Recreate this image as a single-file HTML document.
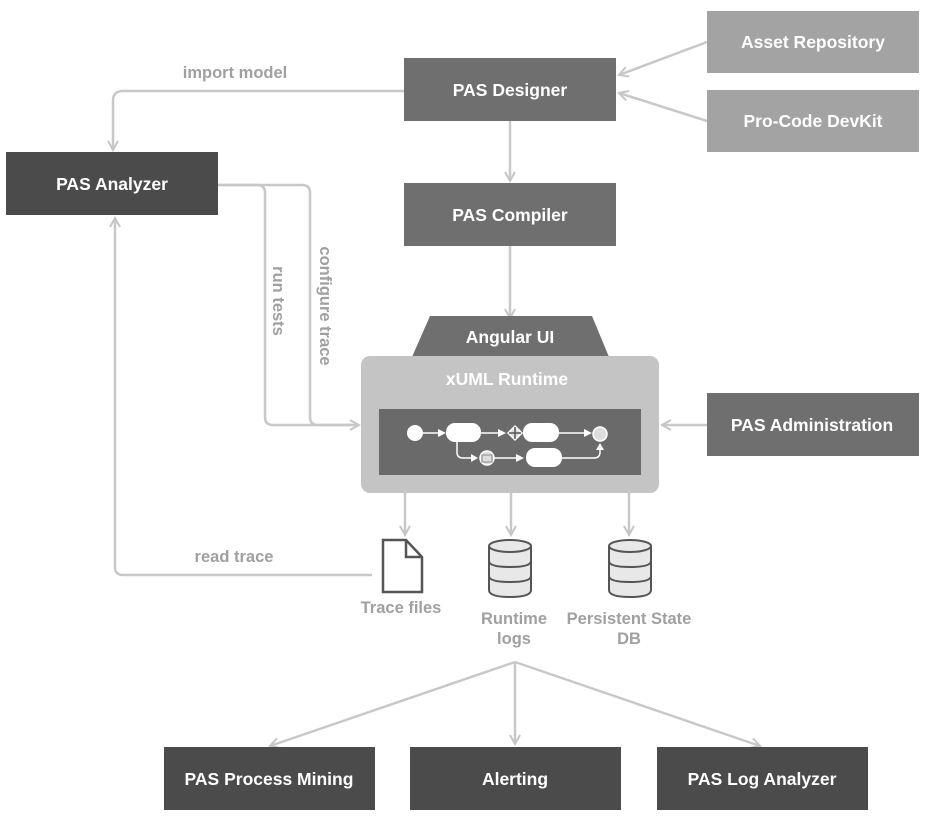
<!DOCTYPE html>
<html><head><meta charset="utf-8"><style>
html,body{margin:0;padding:0;background:#fff;}
svg{display:block;}
text{font-family:"Liberation Sans",Arial,sans-serif;font-weight:bold;}
</style></head><body>
<svg width="931" height="821" viewBox="0 0 931 821" xmlns="http://www.w3.org/2000/svg">
<defs>
<marker id="a" markerWidth="12" markerHeight="12" refX="10" refY="6" orient="auto" markerUnits="userSpaceOnUse">
<path d="M1,1 L10,6 L1,11" fill="none" stroke="#c6c6c6" stroke-width="2"/>
</marker>
</defs>
<g fill="none" stroke="#c8c8c8" stroke-width="2.5">
<line x1="707" y1="42" x2="619" y2="75" marker-end="url(#a)"/>
<line x1="707" y1="121" x2="619" y2="93" marker-end="url(#a)"/>
<path d="M404,91 H123 Q113,91 113,101 V150" marker-end="url(#a)"/>
<line x1="510" y1="121" x2="510" y2="181" marker-end="url(#a)"/>
<line x1="510" y1="246" x2="510" y2="318" marker-end="url(#a)"/>
<path d="M218,185 H257 Q265,185 265,193 V417 Q265,425 273,425 H359" marker-end="url(#a)"/>
<path d="M218,185 H302 Q310,185 310,193 V417 Q310,425 318,425 H359"/>
<line x1="707" y1="425" x2="662" y2="425" marker-end="url(#a)"/>
<line x1="405" y1="493" x2="405" y2="535" marker-end="url(#a)"/>
<line x1="511" y1="493" x2="511" y2="535" marker-end="url(#a)"/>
<line x1="629" y1="493" x2="629" y2="535" marker-end="url(#a)"/>
<path d="M372,575 H123 Q115,575 115,567 V218" marker-end="url(#a)"/>
<line x1="515" y1="662" x2="270" y2="746" marker-end="url(#a)"/>
<line x1="515" y1="662" x2="515" y2="744" marker-end="url(#a)"/>
<line x1="515" y1="662" x2="760" y2="746" marker-end="url(#a)"/>
</g>
<g fill="#a0a0a0" font-size="16.5">
<text x="235" y="78" text-anchor="middle">import model</text>
<text x="234" y="562" text-anchor="middle">read trace</text>
<text transform="translate(273,301) rotate(90)" text-anchor="middle">run tests</text>
<text transform="translate(320,306) rotate(90)" text-anchor="middle">configure  trace</text>
<text x="401" y="613" text-anchor="middle">Trace files</text>
<text x="514" y="624" text-anchor="middle">Runtime</text>
<text x="514" y="644" text-anchor="middle">logs</text>
<text x="629" y="624" text-anchor="middle">Persistent State</text>
<text x="629" y="644" text-anchor="middle">DB</text>
</g>
<rect x="707" y="11" width="212" height="62" fill="#a3a3a3"/>
<rect x="707" y="90" width="212" height="62" fill="#a3a3a3"/>
<rect x="404" y="58" width="212" height="63" fill="#6f6f6f"/>
<rect x="6" y="152" width="212" height="63" fill="#4b4b4b"/>
<rect x="404" y="183" width="212" height="63" fill="#6f6f6f"/>
<rect x="707" y="393" width="212" height="63" fill="#6f6f6f"/>
<rect x="164" y="747" width="211" height="63" fill="#4b4b4b"/>
<rect x="410" y="747" width="211" height="63" fill="#4b4b4b"/>
<rect x="657" y="747" width="211" height="63" fill="#4b4b4b"/>
<polygon points="430,316 592,316 609,357 412,357" fill="#6f6f6f"/>
<rect x="361" y="356" width="298" height="137" rx="9" fill="#c4c4c4"/>
<rect x="379" y="409" width="262" height="66" fill="#6a6a6a"/>
<g fill="#fff" font-size="17.5" text-anchor="middle">
<text x="813" y="48">Asset Repository</text>
<text x="813" y="127">Pro-Code DevKit</text>
<text x="510" y="96">PAS Designer</text>
<text x="112" y="190">PAS Analyzer</text>
<text x="510" y="221">PAS Compiler</text>
<text x="812" y="431">PAS Administration</text>
<text x="269" y="785">PAS Process Mining</text>
<text x="515" y="785">Alerting</text>
<text x="762" y="785">PAS Log Analyzer</text>
<text x="510" y="343">Angular UI</text>
<text x="507" y="385">xUML Runtime</text>
</g>
<g stroke="#fff" stroke-width="1.5" fill="#fff">
<circle cx="415" cy="433" r="8" stroke="none"/>
<line x1="423" y1="433" x2="440" y2="433"/><polygon points="438,429 446,433 438,437" stroke="none"/>
<rect x="446" y="423" width="35" height="19" rx="9" stroke="none"/>
<line x1="481" y1="433" x2="500" y2="433"/><polygon points="498,429 506,433 498,437" stroke="none"/>
<polygon points="515,426 522,433 515,440 508,433" fill="#ddd" stroke="#fff"/>
<line x1="515" y1="427" x2="515" y2="439" stroke="#555"/><line x1="509" y1="433" x2="521" y2="433" stroke="#555"/>
<rect x="523" y="423" width="36" height="19" rx="9" stroke="none"/>
<line x1="559" y1="433" x2="585" y2="433"/><polygon points="584,429 592,433 584,437" stroke="none"/>
<circle cx="600" cy="434" r="7" fill="#ddd" stroke="#fff"/>
<path d="M457,442 V452 Q457,458 463,458 H472" fill="none"/>
<polygon points="471,454 478,458 471,462" stroke="none"/>
<circle cx="487" cy="458" r="7" fill="#ddd" stroke="#fff"/>
<rect x="482" y="455" width="10" height="7" fill="none" stroke="#888" stroke-width="1"/>
<line x1="494" y1="458" x2="518" y2="458"/><polygon points="516,454 524,458 516,462" stroke="none"/>
<rect x="526" y="448" width="36" height="19" rx="9" stroke="none"/>
<path d="M562,458 H594 Q600,458 600,452 V448" fill="none"/>
<polygon points="596,450 600,443 604,450" stroke="none"/>
</g>
<path d="M383,540 H406 L422,557 V592 H383 Z" fill="#fff" stroke="#555" stroke-width="2.5"/>
<path d="M406,540 V557 H422" fill="none" stroke="#555" stroke-width="2.5"/>
<g fill="#e8e8e8" stroke="#555" stroke-width="2">
<g id="db">
<path d="M489,546 V590 Q489,597 510,597 Q531,597 531,590 V546"/>
<ellipse cx="510" cy="546" rx="21" ry="6"/>
<path d="M489,561 Q489,567 510,567 Q531,567 531,561" fill="none"/>
<path d="M489,576 Q489,582 510,582 Q531,582 531,576" fill="none"/>
</g>
<use href="#db" x="120"/>
</g>
</svg>
</body></html>
